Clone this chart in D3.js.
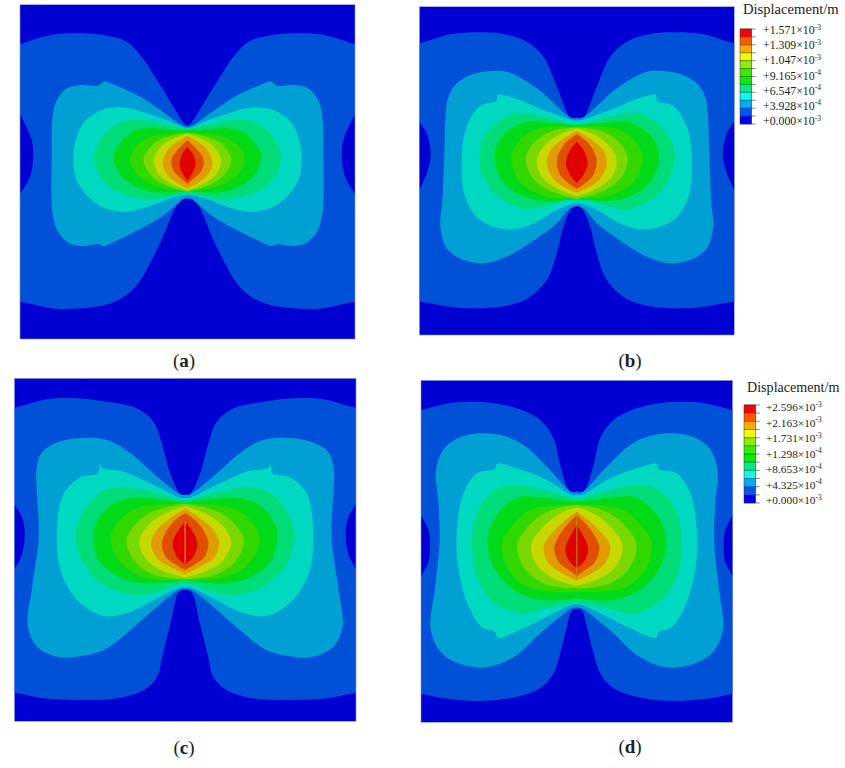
<!DOCTYPE html>
<html>
<head>
<meta charset="utf-8">
<script src="https://cdnjs.cloudflare.com/ajax/libs/d3/7.8.5/d3.min.js"></script>
<style>
  html, body { margin: 0; background: #fff; }
  svg { display: block; }
  text { font-family: "Liberation Serif", serif; fill: #222; }
</style>
</head>
<body>
<div id="canvas"></div>
<script>
// contour fill per level, outermost (background) first
const bandColors = ["#0000d2", "#0050d8", "#009fd4", "#00d8c2", "#00dc78", "#00da18", "#30d800", "#78d800", "#c6d800", "#e09c00", "#e04e00", "#e00000"];
const legendColors = ["#ff0000", "#ff5a00", "#ffaa00", "#eeff00", "#8eee00", "#38ee00", "#00f000", "#00ee80", "#00ffee", "#00aaff", "#0055ff", "#0000ee"];

const legendLabelsTop = ["+1.571", "+1.309", "+1.047", "+9.165", "+6.547", "+3.928", "+0.000"];
const legendExpTop = ["-3", "-3", "-3", "-4", "-4", "-4", "-3"];
const legendLabelsBottom = ["+2.596", "+2.163", "+1.731", "+1.298", "+8.653", "+4.325", "+0.000"];
const legendExpBottom = ["-3", "-3", "-3", "-4", "-4", "-4", "-3"];

// contour outlines: [distance from centre line, height], right half, top to bottom
const contoursA = [
  [[0,376],[8,372],[78,262],[138,170],[183,125],[238,108],[318,100],[398,103],[458,118],[503,133],[543,133],[543,905],[503,905],[468,912],[398,926],[318,925],[238,912],[183,885],[148,850],[118,800],[78,720],[28,610],[8,597],[0,597]],
  [[0,380],[12,378],[82,330],[142,290],[212,258],[252,245],[267,257],[322,255],[362,265],[392,300],[405,350],[408,470],[408,610],[405,640],[392,690],[362,725],[322,738],[267,733],[253,738],[198,715],[138,685],[78,650],[28,610],[13,596],[0,593]],
  [[0,384],[8,383],[58,362],[138,335],[198,322],[258,330],[313,370],[338,430],[343,480],[333,540],[298,590],[248,625],[188,635],[118,620],[58,597],[8,585],[0,584]],
  [[0,388],[8,385],[58,375],[118,362],[178,360],[232,385],[268,430],[281,470],[268,520],[228,565],[168,590],[98,597],[28,585],[0,582]],
  [[0,392],[58,388],[118,384],[165,395],[203,430],[222,470],[205,520],[165,555],[110,575],[50,578],[0,572]],
  [[0,396],[60,403],[115,412],[155,440],[173,478],[150,525],[90,560],[40,568],[0,572]],
  [[0,398],[50,408],[100,430],[132,478],[110,525],[60,558],[0,575]],
  [[0,402],[40,415],[80,440],[101,480],[85,525],[40,555],[0,572]],
  [[0,408],[30,425],[60,450],[75,490],[60,525],[30,550],[0,565]],
  [[0,420],[25,445],[45,470],[49,490],[40,515],[20,535],[0,552]],
  [[0,440],[15,460],[24,490],[15,520],[0,542]]
];
const lobeA = [[503,342],[485,378],[468,420],[463,465],[473,530],[503,582]];

const contoursB = [
  [[0,350],[15,358],[60,260],[100,170],[150,125],[220,102],[300,97],[380,103],[473,130],[513,130],[513,905],[473,905],[380,920],[300,925],[200,915],[140,890],[90,840],[60,760],[40,680],[15,625],[0,614]],
  [[0,356],[20,352],[120,265],[200,218],[240,212],[310,222],[360,250],[385,290],[393,340],[397,450],[403,600],[409,680],[390,745],[340,780],[280,790],[245,783],[190,760],[120,715],[60,670],[20,625],[0,618]],
  [[0,362],[15,360],[100,330],[180,297],[238,285],[241,302],[290,318],[330,380],[345,470],[335,590],[290,660],[210,688],[140,675],[60,630],[15,612],[0,610]],
  [[0,372],[10,372],[100,350],[185,340],[240,368],[280,415],[294,465],[280,530],[235,590],[155,627],[80,615],[10,590],[0,590]],
  [[0,378],[80,368],[150,365],[200,388],[235,425],[247,470],[225,540],[170,585],[100,603],[10,598],[0,596]],
  [[0,380],[80,380],[135,392],[175,425],[197,468],[175,540],[120,580],[60,595],[0,595]],
  [[0,382],[70,392],[120,420],[153,472],[135,530],[85,570],[0,597]],
  [[0,385],[55,405],[100,440],[120,480],[105,530],[60,565],[0,590]],
  [[0,393],[45,420],[78,450],[90,485],[75,530],[40,560],[0,577]],
  [[0,402],[35,430],[58,470],[60,490],[50,525],[25,550],[0,566]],
  [[0,425],[20,450],[33,490],[20,525],[0,550]]
];
const lobeB = [[473,365],[450,400],[438,465],[450,520],[473,570]];

const contoursC = [
  [[0,372],[12,375],[45,310],[70,220],[95,155],[145,115],[225,97],[325,85],[415,88],[512,113],[552,113],[552,968],[512,968],[424,985],[324,990],[204,985],[124,960],[84,920],[69,860],[44,760],[18,665],[0,660]],
  [[0,376],[14,373],[84,320],[164,250],[234,210],[324,205],[395,222],[432,250],[446,300],[444,380],[439,500],[459,650],[472,770],[444,830],[384,860],[324,860],[244,840],[164,780],[84,710],[19,660],[0,656]],
  [[0,384],[14,383],[94,345],[184,305],[249,294],[256,283],[262,310],[314,322],[364,370],[384,470],[374,600],[324,690],[244,738],[164,725],[84,685],[14,652],[0,651]],
  [[0,392],[8,390],[100,365],[200,352],[260,372],[308,430],[329,490],[310,570],[250,640],[160,675],[80,665],[8,640],[0,640]],
  [[0,400],[100,385],[170,385],[235,415],[270,465],[277,495],[260,570],[200,620],[130,640],[60,637],[0,630]],
  [[0,400],[80,405],[145,415],[200,455],[224,500],[200,570],[140,615],[70,630],[0,630]],
  [[0,402],[70,415],[130,445],[176,510],[150,575],[90,615],[0,628]],
  [[0,408],[60,430],[110,465],[138,515],[115,570],[60,605],[0,622]],
  [[0,415],[45,445],[85,480],[102,520],[85,565],[45,590],[0,612]],
  [[0,428],[35,455],[60,490],[70,525],[55,565],[25,585],[0,600]],
  [[0,455],[20,480],[37,520],[25,560],[0,583]]
];
const lobeC = [[512,403],[490,440],[481,490],[490,555],[512,597]];
const crackC = [[0,455],[0,580]];

const contoursD = [
  [[0,362],[20,365],[50,285],[70,205],[110,150],[180,115],[260,98],[360,97],[430,110],[468,120],[508,120],[508,972],[468,972],[400,985],[300,993],[200,985],[110,955],[70,910],[50,850],[30,770],[15,722],[0,718]],
  [[0,369],[15,367],[90,290],[160,225],[230,195],[330,195],[395,232],[422,300],[415,400],[412,520],[425,650],[438,780],[405,850],[340,885],[260,890],[180,855],[110,790],[50,740],[15,715],[0,713]],
  [[0,376],[15,375],[100,325],[180,295],[240,282],[245,297],[300,310],[340,370],[360,480],[355,600],[320,720],[280,775],[245,785],[238,803],[160,775],[80,735],[15,705],[0,704]],
  [[0,386],[10,385],[100,360],[200,345],[268,378],[308,455],[315,530],[300,620],[250,695],[170,730],[90,715],[10,700],[0,700]],
  [[0,395],[100,383],[175,382],[240,435],[268,510],[250,590],[190,660],[110,690],[50,690],[0,685]],
  [[0,403],[80,408],[145,422],[200,475],[225,520],[205,600],[150,650],[70,665],[0,665]],
  [[0,405],[60,415],[120,445],[178,520],[160,590],[110,635],[50,652],[0,655]],
  [[0,412],[50,430],[100,470],[137,525],[120,585],[70,625],[0,648]],
  [[0,425],[40,455],[80,495],[100,530],[85,580],[45,610],[0,632]],
  [[0,435],[30,465],[55,500],[68,535],[55,575],[25,600],[0,618]],
  [[0,465],[15,490],[34,535],[25,570],[0,595]]
];
const lobeD = [[468,435],[445,480],[440,525],[445,575],[468,620]];
const crackD = [[0,430],[0,625]];

const svg = d3.select("#canvas").append("svg").attr("width", 845).attr("height", 768);

function drawPanel(id, contours, lobe, crack, box, halfWidth, heights, caption) {
  const x = d3.scaleLinear().domain([-halfWidth, halfWidth]).range([box[0], box[2]]);
  const y = d3.scaleLinear().domain(heights).range([box[1], box[3]]);
  const line = d3.line()
    .x((d) => x(d[0]))
    .y((d) => y(d[1]))
    .curve(d3.curveCatmullRom.alpha(0.5));
  const mirror = (pts) => pts.map((d) => [-d[0], d[1]]).reverse();

  svg.append("clipPath").attr("id", "clip" + id)
    .append("rect")
    .attr("x", box[0]).attr("y", box[1])
    .attr("width", box[2] - box[0]).attr("height", box[3] - box[1]);

  const g = svg.append("g").attr("clip-path", `url(#clip${id})`);

  g.append("rect")
    .attr("x", box[0]).attr("y", box[1])
    .attr("width", box[2] - box[0]).attr("height", box[3] - box[1])
    .attr("fill", bandColors[0]);

  g.selectAll(".band")
    .data(contours)
    .enter()
    .append("path")
    .attr("d", (d) => line(d) + "L" + line(mirror(d)).slice(1) + "Z")
    .attr("fill", (d, i) => bandColors[i + 1]);

  // the two dark patches on the side edges
  g.selectAll(".lobe")
    .data([lobe, lobe.map((d) => [-d[0], d[1]])])
    .enter()
    .append("path")
    .attr("d", (d) => line(d) + "Z")
    .attr("fill", bandColors[0]);

  if (crack) {
    g.append("path")
      .attr("d", d3.line().x((d) => x(d[0])).y((d) => y(d[1]))(crack))
      .attr("stroke", id === "c" ? "#e8b040" : "#a49a00")
      .attr("stroke-width", 1)
      .attr("fill", "none");
  }

  svg.append("rect")
    .attr("x", box[0]).attr("y", box[1])
    .attr("width", box[2] - box[0]).attr("height", box[3] - box[1])
    .attr("fill", "none")
    .attr("stroke", "#7f8fe6")
    .attr("stroke-width", 0.6);

  const t = svg.append("text")
    .attr("x", caption[0]).attr("y", caption[1])
    .attr("text-anchor", "middle")
    .attr("font-size", 19);
  t.append("tspan").text("(");
  t.append("tspan").attr("font-weight", "bold").text(id);
  t.append("tspan").text(")");
}

function drawLegend(labels, exps, box, titleX, titleY, titleSize, labelX, labelSpan, labelSize) {
  const y = d3.scaleLinear().domain([0, 12]).range([box[1], box[3]]);
  svg.append("text")
    .attr("x", titleX).attr("y", titleY)
    .attr("font-size", titleSize)
    .text("Displacement/m");

  svg.selectAll(null)
    .data(legendColors)
    .enter()
    .append("rect")
    .attr("x", box[0])
    .attr("y", (d, i) => y(i))
    .attr("width", box[2] - box[0])
    .attr("height", (d, i) => y(i + 1) - y(i))
    .attr("fill", (d) => d);

  svg.selectAll(null)
    .data(d3.range(13))
    .enter()
    .append("line")
    .attr("x1", box[0])
    .attr("x2", box[2] + 4)
    .attr("y1", (d) => y(d))
    .attr("y2", (d) => y(d))
    .attr("stroke", "#333")
    .attr("stroke-width", 0.6);

  svg.append("rect")
    .attr("x", box[0]).attr("y", box[1])
    .attr("width", box[2] - box[0]).attr("height", box[3] - box[1])
    .attr("fill", "none")
    .attr("stroke", "#333")
    .attr("stroke-width", 0.5);

  const ly = d3.scaleLinear().domain([0, 6]).range(labelSpan);
  const t = svg.selectAll(null)
    .data(labels)
    .enter()
    .append("text")
    .attr("x", labelX)
    .attr("y", (d, i) => ly(i))
    .attr("font-size", labelSize)
    .attr("dominant-baseline", "middle");
  t.append("tspan").text((d) => d + "×10");
  t.append("tspan")
    .attr("font-size", 7.5)
    .attr("dy", -3.5)
    .text((d, i) => exps[i]);
}

drawPanel("a", contoursA, lobeA, null, [20, 4.7, 355, 339], 503, [14, 1017], [184, 367]);
drawPanel("b", contoursB, lobeB, null, [419.3, 6.7, 734.3, 335], 472.5, [20, 1005], [630, 367]);
drawPanel("c", contoursC, lobeC, crackC, [14.3, 378.3, 356, 721.3], 512.5, [25, 1054], [184, 754]);
drawPanel("d", contoursD, lobeD, crackD, [421, 380.3, 732.7, 722.3], 467.5, [31, 1057], [630, 753]);

drawLegend(legendLabelsTop, legendExpTop, [740, 29, 751.7, 124], 743, 14, 14.6, 763, [31, 122], 11.8);
drawLegend(legendLabelsBottom, legendExpBottom, [744, 405, 755.7, 503], 747, 392, 14.1, 766, [408, 501], 11.3);
</script>
</body>
</html>
